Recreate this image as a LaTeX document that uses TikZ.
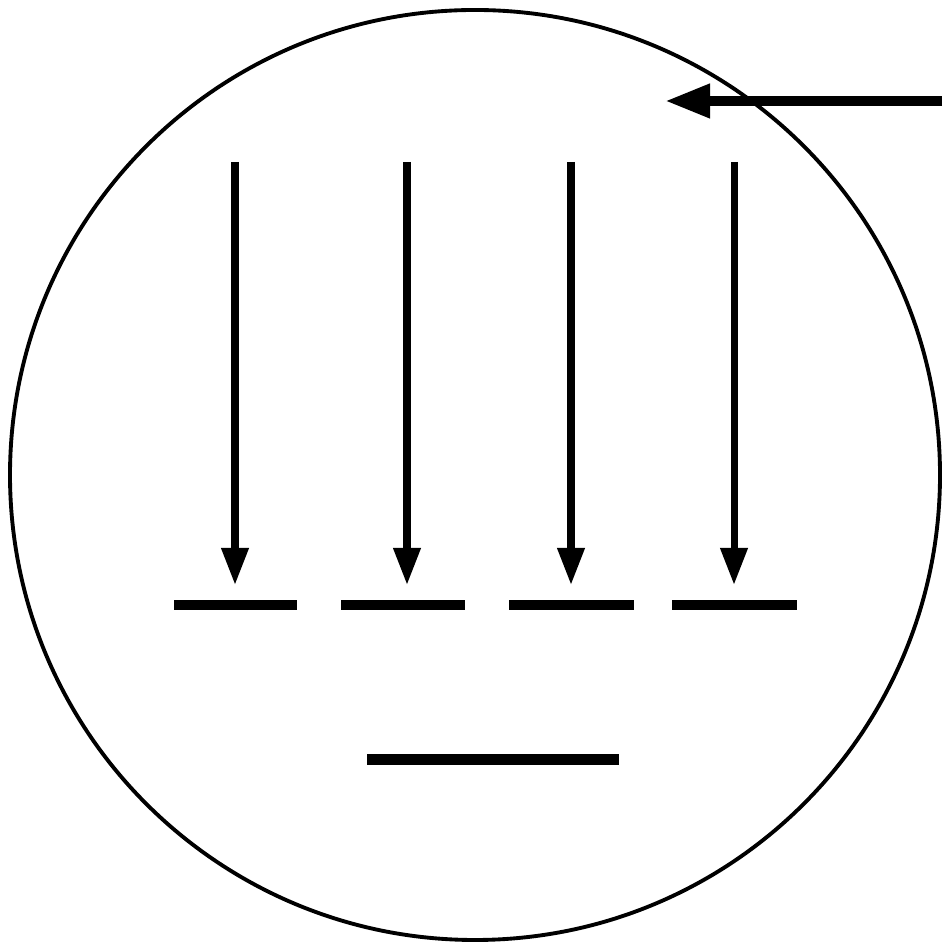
\documentclass[tikz,border=0pt]{standalone}
\usepackage{tikz}
\usetikzlibrary{arrows.meta,positioning}
\tikzset{
  rim/.style={circle, draw=black, line width=2.2pt, minimum size=18.6cm, inner sep=0pt},
  ray/.style={-{Triangle[length=7.4mm, width=5.2mm]}, line width=4pt, draw=black},
  beam/.style={-{Triangle[length=9mm, width=6.4mm]}, line width=5.7pt, draw=black},
  plate/.style={line width=6.2pt, draw=black}
}
\begin{document}
\begin{tikzpicture}
\useasboundingbox (0,0) rectangle (18.84,18.92);
\node[rim] (cell) at (9.5,9.42) {};
% incoming beam
\coordinate (src) at (18.84,16.9);
\coordinate (hit) at (13.3,16.9);
\draw[beam] (src) -- (hit);
% rays
\coordinate (r1top) at (4.7,15.68);
\coordinate (r1end) at (4.7,7.22);
\coordinate (r2top) at (8.14,15.68);
\coordinate (r2end) at (8.14,7.22);
\coordinate (r3top) at (11.42,15.68);
\coordinate (r3end) at (11.42,7.22);
\coordinate (r4top) at (14.68,15.68);
\coordinate (r4end) at (14.68,7.22);
\draw[ray] (r1top) -- (r1end);
\draw[ray] (r2top) -- (r2end);
\draw[ray] (r3top) -- (r3end);
\draw[ray] (r4top) -- (r4end);
% plates
\draw[plate] (3.48,6.82) -- (5.94,6.82);
\draw[plate] (6.82,6.82) -- (9.30,6.82);
\draw[plate] (10.18,6.82) -- (12.68,6.82);
\draw[plate] (13.44,6.82) -- (15.94,6.82);
\draw[plate] (7.34,3.73) -- (12.38,3.73);
\end{tikzpicture}
\end{document}
